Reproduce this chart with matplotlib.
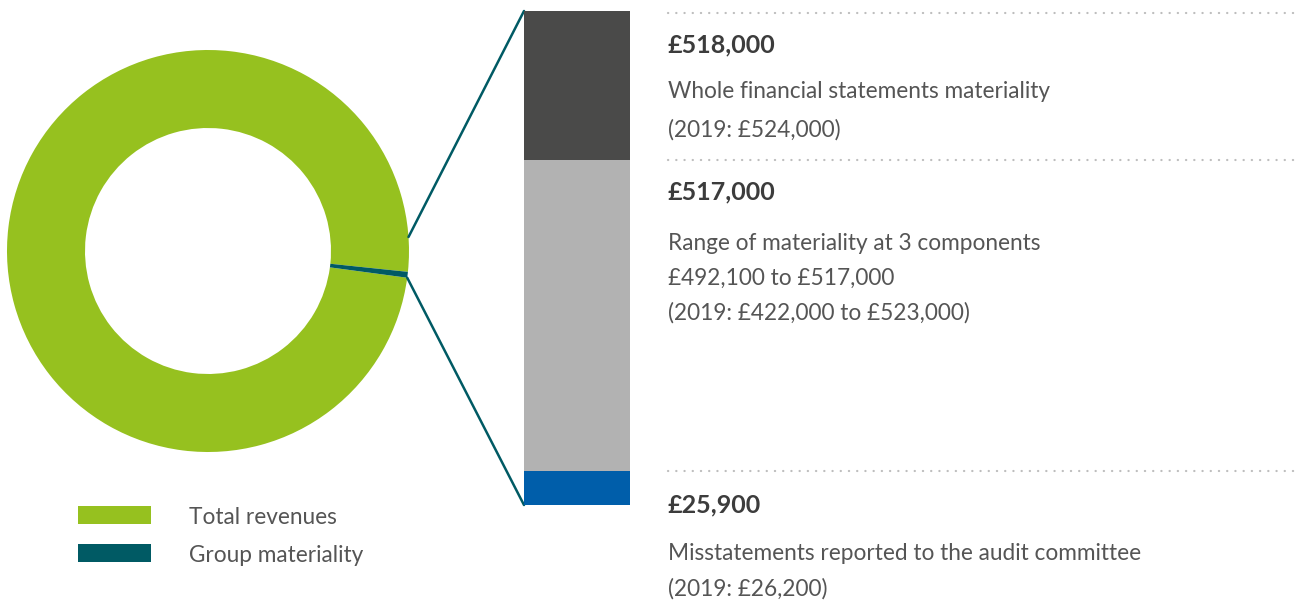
import numpy as np
import matplotlib
matplotlib.use("Agg")
import matplotlib.pyplot as plt
from matplotlib.patches import Rectangle

# data (revenues in £m, materiality in £m)
total_revenues = 110.0
group_materiality = 0.518
legend_labels = ["Total revenues", "Group materiality"]

# stacked bar segments, bottom to top (relative heights as drawn)
bar_segments = [34, 312, 149]
bar_colors = ["#005EAA", "#B2B2B2", "#4A4A49"]

headings = ["£518,000", "£517,000", "£25,900"]
descriptions = [
    ["Whole financial statements materiality", "(2019: £524,000)"],
    ["Range of materiality at 3 components", "£492,100 to £517,000",
     "(2019: £422,000 to £523,000)"],
    ["Misstatements reported to the audit committee", "(2019: £26,200)"],
]

GREEN = "#96C11F"
TEAL = "#005A64"
W, H = 1297, 601

plt.rcParams['font.family'] = ['Lato', 'DejaVu Sans']

fig = plt.figure(figsize=(W / 100, H / 100), dpi=100)
ax = fig.add_axes([0, 0, 1, 1])

# donut
cx, cy, R, ring = 208, 251, 201, 78
frac = group_materiality / (total_revenues + group_materiality)
wedge_centre = 6.8
ax.pie([total_revenues, group_materiality], colors=[GREEN, TEAL], center=(cx, cy),
       radius=R, startangle=wedge_centre + 180 * frac, frame=True,
       wedgeprops=dict(width=ring, linewidth=0))

# callout lines to the bar
bar_left, bar_top, bar_bottom, bar_w = 524, 11, 505, 106
for ang, yend in [(-4.0, bar_top), (wedge_centre + 180 * frac, bar_bottom)]:
    a = np.radians(ang)
    ax.plot([cx + R * np.cos(a), bar_left], [cy + R * np.sin(a), yend],
            color=TEAL, lw=1.8, solid_capstyle='round')

# legend
for (y0, col), lab in zip([(506, GREEN), (544, TEAL)], legend_labels):
    ax.add_patch(Rectangle((78, y0), 73, 18, color=col, lw=0))
    ax.text(189, y0 + 12, lab, fontsize=16.3, color="#555555", va='center')

# dotted separators
for yl in [13, 160, 471]:
    ax.plot([668, 1295], [yl, yl], color="#BDBDBD", lw=1.6,
            linestyle=(0, (0.1, 3.6)), dash_capstyle='round')

# text blocks
head_y = [45, 192, 505]
line_y = [[92, 130], [243, 278, 313], [553, 589]]
for hy, head, ly, lines in zip(head_y, headings, line_y, descriptions):
    ax.text(668, hy, head, fontsize=18, fontweight='bold', color="#3C3C3C", va='center')
    for y, t in zip(ly, lines):
        ax.text(668, y, t, fontsize=16.3, color="#555555", va='center')

ax.set_xlim(0, W)
ax.set_ylim(H, 0)
ax.set_aspect('equal')
ax.axis('off')

# stacked bar in its own axes
bax = fig.add_axes([bar_left / W, (H - bar_bottom) / H, bar_w / W, (bar_bottom - bar_top) / H])
bottom = 0
for v, c in zip(bar_segments, bar_colors):
    bax.bar(0, v, bottom=bottom, width=1, color=c, lw=0)
    bottom += v
bax.set_xlim(-0.5, 0.5)
bax.set_ylim(0, sum(bar_segments))
bax.axis('off')

fig.savefig("out.png", dpi=100)
